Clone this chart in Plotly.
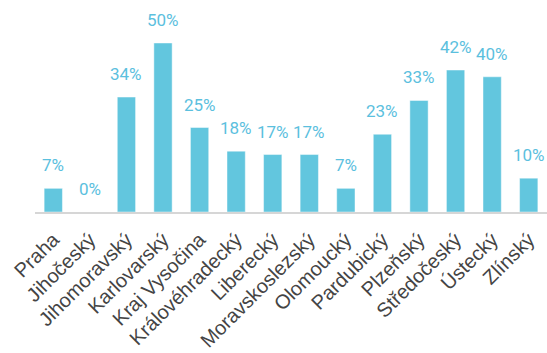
import plotly.graph_objects as go

regions = ["Praha", "Jihočeský", "Jihomoravský", "Karlovarský", "Kraj Vysočina",
           "Královéhradecký", "Liberecký", "Moravskoslezský", "Olomoucký",
           "Pardubický", "Plzeňský", "Středočeský", "Ústecký", "Zlínský"]
values = [7, 0, 34, 50, 25, 18, 17, 17, 7, 23, 33, 42, 40, 10]
labels = [f"{v}%" for v in values]

fig = go.Figure(go.Bar(
    x=regions, y=values,
    marker=dict(color="#62c6de", line=dict(color="rgba(255,255,255,0.45)", width=1)),
    hoverinfo="skip",
))

for r, v, t in zip(regions, values, labels):
    fig.add_annotation(x=r, y=v, text=t, showarrow=False, yanchor="bottom",
                       yshift=11, font=dict(family="Roboto", size=17, color="#5bc0de"))

fig.update_layout(
    width=547, height=353,
    margin=dict(l=35, r=0, t=0, b=141, autoexpand=False),
    paper_bgcolor="white", plot_bgcolor="white",
    bargap=0.5, showlegend=False,
    xaxis=dict(tickangle=-45, tickfont=dict(family="Liberation Sans", size=20, color="#444444"),
               showline=True, linecolor="#d6d6d6", linewidth=2, ticks="", showgrid=False,
               automargin=False, ticklabelstandoff=6),
    yaxis=dict(range=[0, 62.72], visible=False, showgrid=False, zeroline=False),
)

fig.write_html("out.html", config={"displayModeBar": False},
               post_script="document.body.style.margin='0';document.body.style.overflow='hidden';")
